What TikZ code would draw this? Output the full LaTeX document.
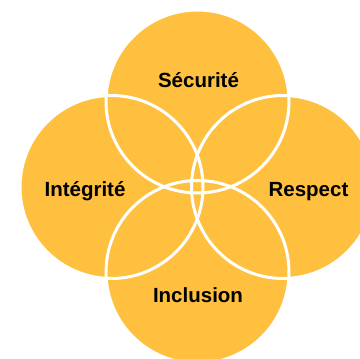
\documentclass[tikz,border=0pt]{standalone}
\usepackage{fontspec}
\setmainfont{Liberation Sans}
\usepackage{xcolor}
\usepackage{tikz}
\definecolor{petal}{RGB}{254,192,62}

\begin{document}
\begin{tikzpicture}[x=1pt,y=-1pt,
		petalfill/.style={fill=petal},
		ring/.style={draw=white,line width=3pt},
		word/.style={font=\fontsize{20.5}{24}\selectfont\bfseries,text=black,inner sep=0pt,anchor=base}]
		\def\r{91.5pt}
		\useasboundingbox (0,0) rectangle (360,359);
		\fill[white] (0,0) rectangle (360,359);
		\clip (0,0) rectangle (360,359);
		\coordinate (S) at (197.5,101.5);
		\coordinate (I) at (111.5,187);
		\coordinate (R) at (283,187);
		\coordinate (N) at (197.5,272);
		\foreach \c in {S,I,R,N}
			\fill[petalfill] (\c) circle (\r);
		\foreach \c in {S,I,R,N}
			\draw[ring] (\c) circle (\r);
		\node[word] (S-text) at (198.5,87) {Sécurité};
		\node[word] (I-text) at (85,196.5) {Intégrité};
		\node[word] (R-text) at (308.5,196) {Respect};
		\node[word] (N-text) at (198,302.5) {Inclusion};
		%\draw[ring] (S) -- (N);
	\end{tikzpicture}
\end{document}
